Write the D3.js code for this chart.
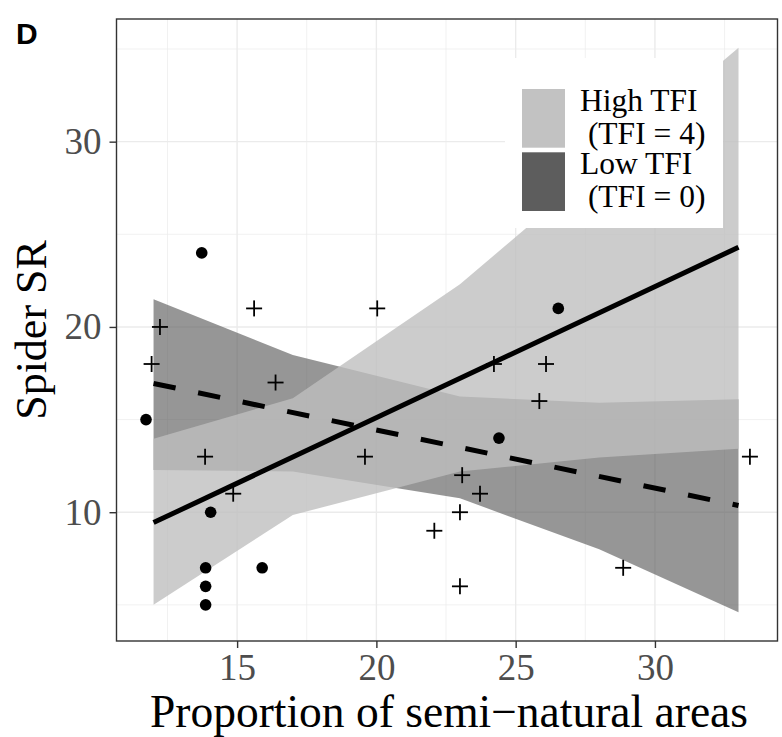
<!DOCTYPE html>
<html lang="en">
<head>
<meta charset="UTF-8">
<title>Spider SR</title>
<style>
  body { margin: 0; background: #fff; }
  svg { display: block; }
</style>
</head>
<body>
<div id="chart"></div>
<script src="https://d3js.org/d3.v7.min.js"></script>
<script>
// fitted ribbons (95% band) at the prediction points
const predX = [12, 17, 23, 28, 33];
const highLower = [5.0, 9.85, 12.2, 12.95, 13.42];
const highUpper = [13.96, 16.15, 22.3, 28.7, 35.07];
const lowLower = [12.28, 12.2, 10.75, 8.0, 4.6];
const lowUpper = [21.49, 18.49, 16.24, 15.91, 16.1];

// fitted lines
const fitX = [12, 33];
const highFit = [9.44, 24.3];
const lowFit = [16.95, 10.36];

// observed points
const dotX = [13.73, 11.73, 14.05, 13.87, 13.87, 13.87, 15.9, 24.4, 26.53];
const dotY = [24, 15, 10, 7, 6, 5, 7, 14, 21];
const plusX = [15.61, 12.23, 11.93, 16.38, 13.85, 14.86, 20.03, 24.22, 26.09,
               25.85, 19.59, 23.08, 23.72, 23.0, 22.08, 23.0, 33.41, 28.86];
const plusY = [21, 20, 18, 17, 13, 11, 21, 18, 18,
               16, 13, 12, 11, 10, 9, 6, 13, 7];

const xTicks = [15, 20, 25, 30];
const xMinor = [12.5, 17.5, 22.5, 27.5, 32.5];
const yTicks = [10, 20, 30];
const yMinor = [5, 15, 25, 35];

const legendLabels = [["High TFI", " (TFI = 4)"], ["Low TFI", " (TFI = 0)"]];

const W = 782, H = 737;
const panel = { left: 116.5, right: 777.5, top: 19, bottom: 641 };
const serif = "'Liberation Serif', 'Times New Roman', serif";

const svg = d3.select("#chart").append("svg")
    .attr("width", W).attr("height", H);

const x = d3.scaleLinear().domain([10.67, 34.40]).range([panel.left, panel.right]);
const y = d3.scaleLinear().domain([3.05, 36.62]).range([panel.bottom, panel.top]);

// grid
const grid = svg.append("g");
xMinor.forEach(v => grid.append("line")
    .attr("x1", x(v)).attr("x2", x(v)).attr("y1", panel.top).attr("y2", panel.bottom)
    .attr("stroke", "#ebebeb").attr("stroke-width", 0.7));
yMinor.forEach(v => grid.append("line")
    .attr("y1", y(v)).attr("y2", y(v)).attr("x1", panel.left).attr("x2", panel.right)
    .attr("stroke", "#ebebeb").attr("stroke-width", 0.7));
xTicks.forEach(v => grid.append("line")
    .attr("x1", x(v)).attr("x2", x(v)).attr("y1", panel.top).attr("y2", panel.bottom)
    .attr("stroke", "#ebebeb").attr("stroke-width", 1.4));
yTicks.forEach(v => grid.append("line")
    .attr("y1", y(v)).attr("y2", y(v)).attr("x1", panel.left).attr("x2", panel.right)
    .attr("stroke", "#ebebeb").attr("stroke-width", 1.4));

// ribbons
const area = (lo, hi) => d3.area()
    .x((d, i) => x(predX[i]))
    .y0((d, i) => y(lo[i]))
    .y1((d, i) => y(hi[i]));

svg.append("path")
    .attr("d", area(lowLower, lowUpper)(predX))
    .attr("fill", "#595959").attr("fill-opacity", 0.63);
svg.append("path")
    .attr("d", area(highLower, highUpper)(predX))
    .attr("fill", "#bebebe").attr("fill-opacity", 0.79);

// fitted lines
const line = ys => d3.line().x((d, i) => x(fitX[i])).y((d, i) => y(ys[i]));
svg.append("path")
    .attr("d", line(lowFit)(fitX))
    .attr("fill", "none").attr("stroke", "#000").attr("stroke-width", 5)
    .attr("stroke-dasharray", "22.5,23");
svg.append("path")
    .attr("d", line(highFit)(fitX))
    .attr("fill", "none").attr("stroke", "#000").attr("stroke-width", 5);

// points
svg.append("g").selectAll("circle")
    .data(dotX)
    .enter().append("circle")
    .attr("cx", (d, i) => x(d))
    .attr("cy", (d, i) => y(dotY[i]))
    .attr("r", 5.8)
    .attr("fill", "#000");

const plus = svg.append("g").attr("stroke", "#000").attr("stroke-width", 1.8);
plusX.forEach((d, i) => {
    const cx = x(d), cy = y(plusY[i]);
    plus.append("line").attr("x1", cx - 8).attr("x2", cx + 8).attr("y1", cy).attr("y2", cy);
    plus.append("line").attr("x1", cx).attr("x2", cx).attr("y1", cy - 8).attr("y2", cy + 8);
});

// legend
const legend = svg.append("g");
legend.append("rect")
    .attr("x", 505).attr("y", 58).attr("width", 218).attr("height", 170)
    .attr("fill", "#fff");
const keyFill = ["#c2c2c2", "#5d5d5d"];
legendLabels.forEach((lab, i) => {
    const top = 89 + i * 63.3;
    legend.append("rect")
        .attr("x", 522).attr("y", top).attr("width", 43).attr("height", 58.7)
        .attr("fill", keyFill[i]);
    const t = legend.append("text")
        .attr("x", 580).attr("y", top + 22)
        .style("font-family", serif).style("font-size", "31.5px").attr("fill", "#000");
    t.append("tspan").attr("x", 580).text(lab[0]);
    t.append("tspan").attr("x", 580).attr("dy", 32.5).attr("xml:space", "preserve").text(lab[1]);
});

// panel border
svg.append("rect")
    .attr("x", panel.left).attr("y", panel.top)
    .attr("width", panel.right - panel.left).attr("height", panel.bottom - panel.top)
    .attr("fill", "none").attr("stroke", "#333").attr("stroke-width", 1.4);

// axes
const xAxis = svg.append("g")
    .attr("transform", `translate(0,${panel.bottom})`)
    .call(d3.axisBottom(x).tickValues(xTicks).tickSize(7).tickPadding(6));
const yAxis = svg.append("g")
    .attr("transform", `translate(${panel.left},0)`)
    .call(d3.axisLeft(y).tickValues(yTicks).tickSize(7).tickPadding(8));
[xAxis, yAxis].forEach(a => {
    a.select(".domain").remove();
    a.selectAll(".tick line").attr("stroke", "#333").attr("stroke-width", 1.4);
    a.selectAll(".tick text")
        .style("font-family", serif).style("font-size", "37px").attr("fill", "#4d4d4d");
});

// titles
svg.append("text")
    .attr("x", (panel.left + panel.right) / 2 + 2).attr("y", 727)
    .attr("text-anchor", "middle")
    .style("font-family", serif).style("font-size", "45.5px")
    .text("Proportion of semi\u2212natural areas");

svg.append("text")
    .attr("transform", `translate(46,${(panel.top + panel.bottom) / 2}) rotate(-90)`)
    .attr("text-anchor", "middle")
    .style("font-family", serif).style("font-size", "44px")
    .text("Spider SR");

svg.append("text")
    .attr("x", 16).attr("y", 44)
    .style("font-family", "'Liberation Sans', Arial, sans-serif")
    .style("font-size", "30px").style("font-weight", "bold")
    .text("D");
</script>
</body>
</html>
